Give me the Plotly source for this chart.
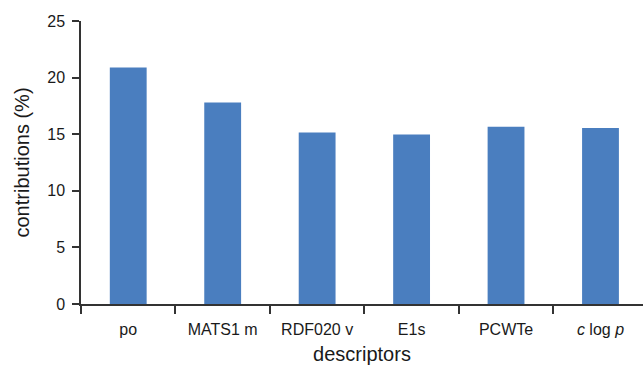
import plotly.graph_objects as go

# Descriptor contributions to the model
descriptors = ["po", "MATS1 m", "RDF020 v", "E1s", "PCWTe", "<i>c</i> log <i>p</i>"]
contributions = [20.9, 17.8, 15.15, 14.97, 15.65, 15.54]

y_ticks = [0, 5, 10, 15, 20, 25]

bar_color = "#4a7ebf"
font_family = "Liberation Sans, Arial, Helvetica, sans-serif"

fig = go.Figure(
    go.Bar(
        x=descriptors,
        y=contributions,
        marker=dict(color=bar_color, line=dict(width=0)),
        width=0.39,
    )
)

fig.update_layout(
    width=643,
    height=368,
    margin=dict(l=81, r=0, t=21, b=64),
    paper_bgcolor="white",
    plot_bgcolor="white",
    showlegend=False,
    font=dict(family=font_family, size=16, color="#1a1a1a"),
)

fig.update_xaxes(
    type="category",
    range=[-0.5, 5.45],
    showline=True,
    linecolor="#333333",
    linewidth=1.5,
    ticks="outside",
    tickson="boundaries",
    ticklen=8,
    tickwidth=1.5,
    tickcolor="#333333",
    showgrid=False,
    tickfont=dict(size=16),
    ticklabelstandoff=10,
    title=dict(text="descriptors", font=dict(size=20), standoff=10),
)

fig.update_yaxes(
    range=[0, 25],
    tickvals=y_ticks,
    showline=True,
    linecolor="#333333",
    linewidth=1.5,
    ticks="outside",
    ticklen=7,
    tickwidth=1.5,
    tickcolor="#333333",
    showgrid=False,
    zeroline=False,
    tickfont=dict(size=16),
    ticklabelstandoff=4,
    title=dict(text="contributions (%)", font=dict(size=20), standoff=12),
)

fig.write_html("out.html")
